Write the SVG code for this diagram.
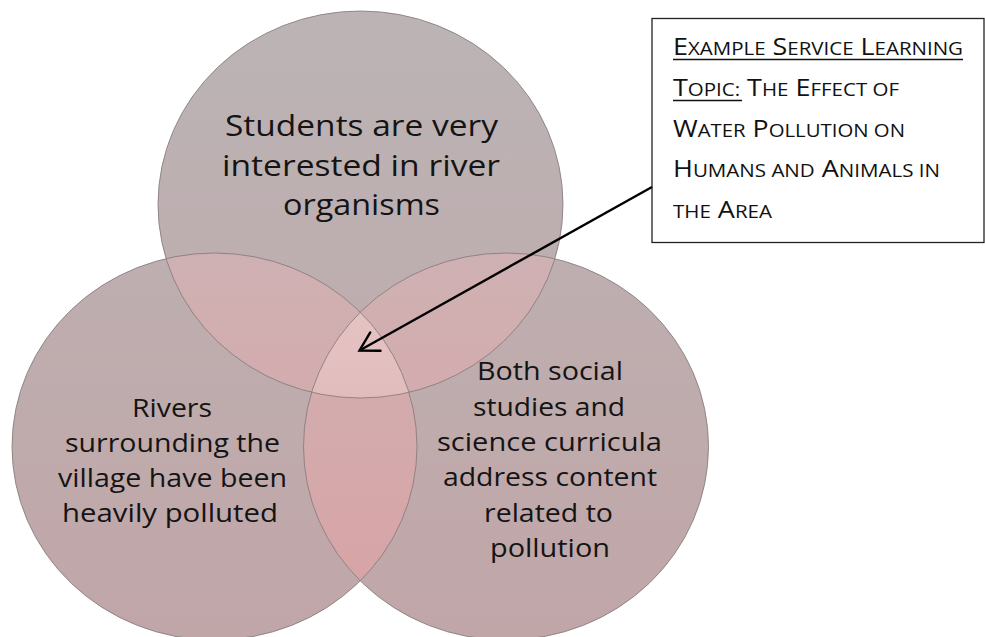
<svg xmlns="http://www.w3.org/2000/svg" width="985" height="637" viewBox="0 0 985 637">
<style>
  .lbl { font-family: "Open Sans", Lato, "Liberation Sans", sans-serif; fill: #141414; text-anchor: middle; }
  .top { font-size: 29px; }
  .side { font-size: 25.5px; }
  .box { font-family: "Open Sans", Lato, "Liberation Sans", sans-serif; fill: #111; font-size: 23px; }
  .sc { font-size: 17.5px; }
  .ring { fill: none; stroke: #857a7c; stroke-width: 1; stroke-opacity: 0.85; }
</style>
<defs>
  <linearGradient id="gSingle" gradientUnits="userSpaceOnUse" x1="0" y1="0" x2="0" y2="637">
    <stop offset="0" stop-color="#bbb4b5"/>
    <stop offset="1" stop-color="#c1a6a8"/>
  </linearGradient>
  <linearGradient id="gDouble" gradientUnits="userSpaceOnUse" x1="0" y1="0" x2="0" y2="637">
    <stop offset="0" stop-color="#c9bbbd"/>
    <stop offset="1" stop-color="#d9a2a4"/>
  </linearGradient>
  <linearGradient id="gTriple" gradientUnits="userSpaceOnUse" x1="0" y1="300" x2="0" y2="400">
    <stop offset="0" stop-color="#e6c4c4"/>
    <stop offset="1" stop-color="#e2bcbc"/>
  </linearGradient>
  <clipPath id="cTop"><ellipse cx="360.5" cy="204.5" rx="202.5" ry="193.5"/></clipPath>
  <clipPath id="cLeft"><ellipse cx="214.5" cy="446.5" rx="202.5" ry="193.5"/></clipPath>
  <marker id="arrow" markerUnits="userSpaceOnUse" markerWidth="26" markerHeight="26" viewBox="0 0 26 26" refX="23" refY="13" orient="auto" overflow="visible">
    <path d="M4.8,2.5 L23,13 L4.8,23.5" fill="none" stroke="#000" stroke-width="2.4" stroke-linecap="round" stroke-linejoin="miter"/>
  </marker>
</defs>

<g id="venn-fills">
  <ellipse cx="360.5" cy="204.5" rx="202.5" ry="193.5" fill="url(#gSingle)"/>
  <ellipse cx="214.5" cy="446.5" rx="202.5" ry="193.5" fill="url(#gSingle)"/>
  <ellipse cx="506" cy="446.5" rx="202.5" ry="193.5" fill="url(#gSingle)"/>
  <ellipse cx="214.5" cy="446.5" rx="202.5" ry="193.5" fill="url(#gDouble)" clip-path="url(#cTop)"/>
  <ellipse cx="506" cy="446.5" rx="202.5" ry="193.5" fill="url(#gDouble)" clip-path="url(#cTop)"/>
  <ellipse cx="506" cy="446.5" rx="202.5" ry="193.5" fill="url(#gDouble)" clip-path="url(#cLeft)"/>
  <g clip-path="url(#cTop)">
    <ellipse cx="506" cy="446.5" rx="202.5" ry="193.5" fill="url(#gTriple)" clip-path="url(#cLeft)"/>
  </g>
</g>

<g id="node-top">
  <ellipse class="ring" cx="360.5" cy="204.5" rx="202.5" ry="193.5"/>
  <text class="lbl top" x="361.5" y="136" textLength="273" lengthAdjust="spacingAndGlyphs">Students are very</text>
  <text class="lbl top" x="361" y="176" textLength="278" lengthAdjust="spacingAndGlyphs">interested in river</text>
  <text class="lbl top" x="361.5" y="215" textLength="157" lengthAdjust="spacingAndGlyphs">organisms</text>
</g>

<g id="node-left">
  <ellipse class="ring" cx="214.5" cy="446.5" rx="202.5" ry="193.5"/>
  <text class="lbl side" x="172" y="416.5" textLength="80" lengthAdjust="spacingAndGlyphs">Rivers</text>
  <text class="lbl side" x="172.5" y="451.5" textLength="215" lengthAdjust="spacingAndGlyphs">surrounding the</text>
  <text class="lbl side" x="172.5" y="487" textLength="229" lengthAdjust="spacingAndGlyphs">village have been</text>
  <text class="lbl side" x="170" y="522" textLength="216" lengthAdjust="spacingAndGlyphs">heavily polluted</text>
</g>

<g id="node-right">
  <ellipse class="ring" cx="506" cy="446.5" rx="202.5" ry="193.5"/>
  <text class="lbl side" x="550" y="380" textLength="146" lengthAdjust="spacingAndGlyphs">Both social</text>
  <text class="lbl side" x="549" y="415.5" textLength="152" lengthAdjust="spacingAndGlyphs">studies and</text>
  <text class="lbl side" x="549.5" y="451" textLength="225" lengthAdjust="spacingAndGlyphs">science curricula</text>
  <text class="lbl side" x="550" y="486" textLength="214" lengthAdjust="spacingAndGlyphs">address content</text>
  <text class="lbl side" x="548.5" y="521.5" textLength="129" lengthAdjust="spacingAndGlyphs">related to</text>
  <text class="lbl side" x="550" y="557" textLength="120" lengthAdjust="spacingAndGlyphs">pollution</text>
</g>

<g id="node-topic">
  <rect x="652" y="18.5" width="332" height="224" fill="#fff" stroke="#222" stroke-width="1.3"/>
  <text class="box" x="673" y="55" textLength="290" lengthAdjust="spacingAndGlyphs">E<tspan class="sc">XAMPLE</tspan> S<tspan class="sc">ERVICE</tspan> L<tspan class="sc">EARNING</tspan></text>
  <text class="box" x="673" y="96" textLength="226" lengthAdjust="spacingAndGlyphs">T<tspan class="sc">OPIC:</tspan> T<tspan class="sc">HE</tspan> E<tspan class="sc">FFECT OF</tspan></text>
  <text class="box" x="673" y="137" textLength="232" lengthAdjust="spacingAndGlyphs">W<tspan class="sc">ATER</tspan> P<tspan class="sc">OLLUTION ON</tspan></text>
  <text class="box" x="673" y="177" textLength="267" lengthAdjust="spacingAndGlyphs">H<tspan class="sc">UMANS AND</tspan> A<tspan class="sc">NIMALS IN</tspan></text>
  <text class="box" x="673" y="218" textLength="99" lengthAdjust="spacingAndGlyphs"><tspan class="sc">THE</tspan> A<tspan class="sc">REA</tspan></text>
  <line x1="673" y1="59.5" x2="963" y2="59.5" stroke="#111" stroke-width="1.5"/>
  <line x1="673" y1="100.5" x2="742" y2="100.5" stroke="#111" stroke-width="1.5"/>
</g>

<g id="connectors">
  <line x1="652" y1="187" x2="359.5" y2="350.5" stroke="#000" stroke-width="2.4" marker-end="url(#arrow)"/>
</g>
</svg>
